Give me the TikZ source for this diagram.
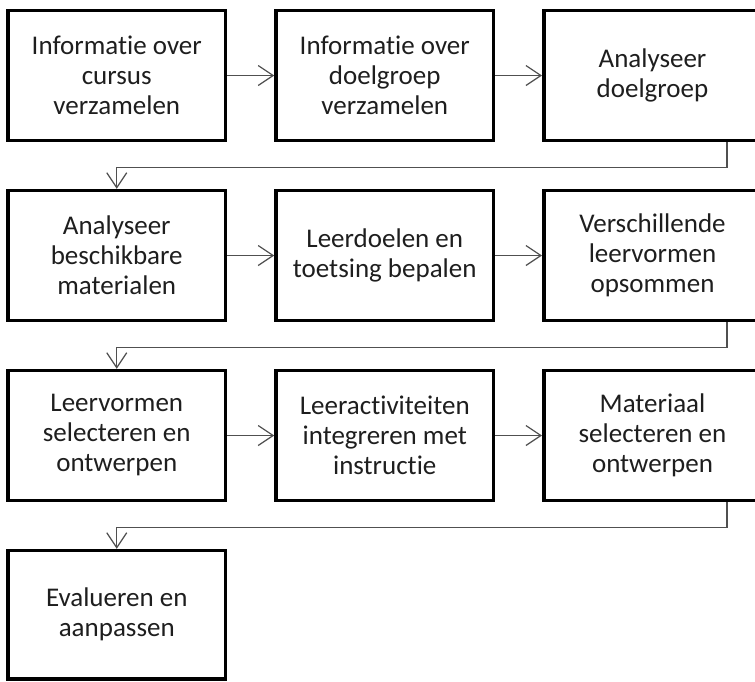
\documentclass[tikz,border=0pt]{standalone}
\usepackage{fontspec}
\setmainfont[Ligatures={NoCommon}]{Carlito}
\usetikzlibrary{arrows.meta}
\definecolor{txt}{RGB}{30,30,30}
\definecolor{lc}{RGB}{80,80,80}
\begin{document}
\begin{tikzpicture}[x=1pt,y=-1pt,
  box/.style={draw=black, line width=3.5pt, minimum width=217.5pt, minimum height=130pt,
    align=center, font=\fontsize{27}{30}\selectfont, text=txt, inner sep=0pt},
  conn/.style={draw=lc, line width=1.2pt, -{Straight Barb[length=15pt,width=20pt]}}]
\useasboundingbox (0,0) rectangle (755,681);
% row 1
\node[box] (a1) at (116.75,75.5) {Informatie over\\cursus\\verzamelen};
\node[box] (a2) at (384.75,75.5) {Informatie over\\doelgroep\\verzamelen};
\node[box] (a3) at (652.5,75.5) {Analyseer\\doelgroep};
% row 2
\node[box] (b1) at (116.75,255.5) {Analyseer\\beschikbare\\materialen};
\node[box] (b2) at (384.75,255.5) {Leerdoelen en\\toetsing bepalen};
\node[box] (b3) at (652.5,255.5) {Verschillende\\leervormen\\opsommen};
% row 3
\node[box] (c1) at (116.75,435.5) {Leervormen\\selecteren en\\ontwerpen};
\node[box] (c2) at (384.75,435.5) {Leeractiviteiten\\integreren met\\instructie};
\node[box] (c3) at (652.5,435.5) {Materiaal\\selecteren en\\ontwerpen};
% row 4
\node[box, minimum height=128.5pt] (d1) at (116.75,614.75) {Evalueren en\\aanpassen};
% horizontal connectors
\draw[conn] (a1) -- (a2);
\draw[conn] (a2) -- (a3);
\draw[conn] (b1) -- (b2);
\draw[conn] (b2) -- (b3);
\draw[conn] (c1) -- (c2);
\draw[conn] (c2) -- (c3);
% return connectors
\coordinate (t1) at (727,167.5);
\coordinate (t2) at (727,347.5);
\coordinate (t3) at (727,527.5);
\draw[conn] (a3.south -| t1) -- (t1) -| (b1.north);
\draw[conn] (b3.south -| t2) -- (t2) -| (c1.north);
\draw[conn] (c3.south -| t3) -- (t3) -| (d1.north);
\end{tikzpicture}
\end{document}
